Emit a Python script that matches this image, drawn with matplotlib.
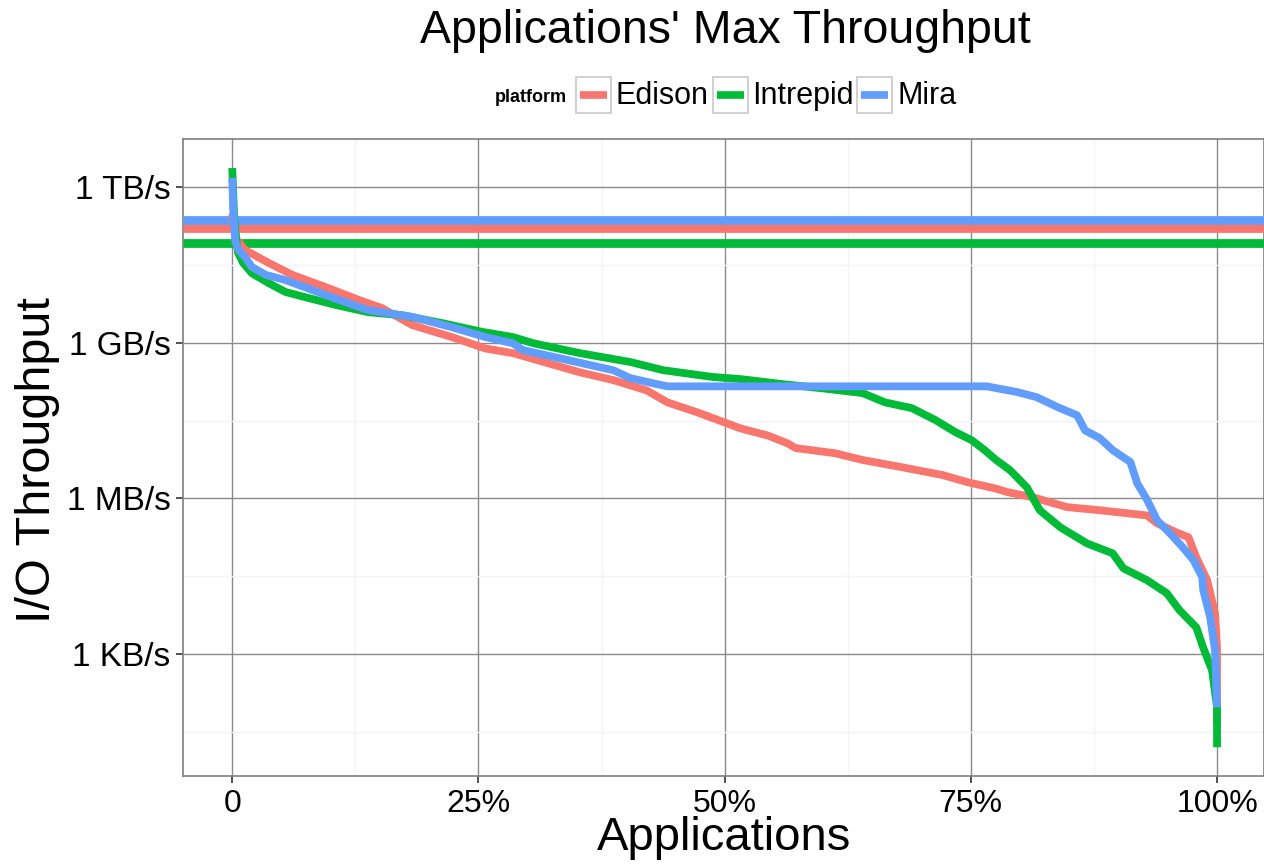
import numpy as np
import matplotlib
matplotlib.use("Agg")
import matplotlib.pyplot as plt
from matplotlib.patches import Rectangle
from matplotlib.lines import Line2D
from matplotlib.ticker import FixedLocator, FixedFormatter

plt.rcParams['font.family'] = ['Liberation Sans', 'DejaVu Sans']

# ---------------- data ----------------
platforms = ["Edison", "Intrepid", "Mira"]
colors = {"Edison": "#F8766D", "Intrepid": "#00BA38", "Mira": "#619CFF"}

# peak bandwidth of each platform, log10(B/s)
peak_log10 = {"Edison": 11.22, "Intrepid": 10.93, "Mira": 11.37}

# fraction of applications (sorted) vs log10(max throughput in B/s)
edison_frac = [0.0, 0.004, 0.013, 0.037, 0.061, 0.094, 0.128, 0.152, 0.183, 0.223,
               0.257, 0.285, 0.320, 0.353, 0.387, 0.421, 0.442, 0.472, 0.516, 0.544,
               0.564, 0.572, 0.612, 0.640, 0.680, 0.721, 0.747, 0.775, 0.787, 0.813,
               0.848, 0.881, 0.929, 0.939, 0.959, 0.971, 0.979, 0.990, 0.998, 1.0, 1.0]
edison_log10 = [11.5, 11.0, 10.79, 10.54, 10.31, 10.08, 9.83, 9.67, 9.34, 9.11,
                8.89, 8.80, 8.61, 8.43, 8.28, 8.08, 7.85, 7.66, 7.35, 7.21,
                7.06, 6.97, 6.87, 6.74, 6.60, 6.45, 6.31, 6.19, 6.12, 6.02,
                5.83, 5.77, 5.67, 5.52, 5.34, 5.25, 4.86, 4.42, 3.78, 3.12, 1.62]

intrepid_frac = [0.0, 0.002, 0.005, 0.006, 0.011, 0.020, 0.037, 0.054, 0.074, 0.105,
                 0.138, 0.173, 0.213, 0.254, 0.285, 0.306, 0.353, 0.404, 0.438, 0.488,
                 0.516, 0.560, 0.600, 0.640, 0.663, 0.690, 0.714, 0.734, 0.751, 0.764,
                 0.775, 0.790, 0.807, 0.820, 0.841, 0.868, 0.894, 0.905, 0.929, 0.949,
                 0.962, 0.979, 0.986, 0.995, 1.0, 1.0]
intrepid_log10 = [12.37, 11.4, 10.84, 10.73, 10.54, 10.34, 10.15, 9.98, 9.88, 9.73,
                  9.59, 9.53, 9.38, 9.21, 9.11, 8.99, 8.80, 8.63, 8.47, 8.34,
                  8.30, 8.20, 8.12, 8.03, 7.85, 7.74, 7.51, 7.28, 7.12, 6.93,
                  6.75, 6.54, 6.21, 5.77, 5.44, 5.13, 4.94, 4.65, 4.42, 4.17,
                  3.84, 3.51, 3.12, 2.68, 1.97, 1.20]

mira_frac = [0.0, 0.001, 0.003, 0.006, 0.013, 0.020, 0.034, 0.054, 0.081, 0.108,
             0.138, 0.183, 0.223, 0.257, 0.285, 0.295, 0.340, 0.387, 0.404, 0.427,
             0.442, 0.766, 0.797, 0.817, 0.838, 0.858, 0.866, 0.881, 0.894, 0.912,
             0.919, 0.929, 0.939, 0.952, 0.965, 0.976, 0.985, 0.986, 0.993, 0.998, 1.0]
mira_log10 = [12.18, 11.56, 10.97, 10.80, 10.65, 10.46, 10.31, 10.21, 10.02, 9.83,
              9.63, 9.50, 9.30, 9.11, 8.99, 8.86, 8.67, 8.47, 8.32, 8.22,
              8.16, 8.16, 8.05, 7.95, 7.76, 7.60, 7.31, 7.16, 6.93, 6.70,
              6.29, 5.97, 5.58, 5.33, 5.06, 4.81, 4.48, 4.23, 3.71, 3.07, 1.97]

curves = {
    "Edison": (edison_frac, edison_log10),
    "Intrepid": (intrepid_frac, intrepid_log10),
    "Mira": (mira_frac, mira_log10),
}

y_ticks = [1e3, 1e6, 1e9, 1e12]
y_labels = ["1 KB/s", "1 MB/s", "1 GB/s", "1 TB/s"]
x_ticks = [0, 0.25, 0.5, 0.75, 1.0]
x_labels = ["0", "25%", "50%", "75%", "100%"]

# ---------------- figure ----------------
W, H = 1264, 864
fig = plt.figure(figsize=(W / 100, H / 100), dpi=100)
ax = fig.add_axes([183 / W, 1 - 776 / H, (1264 - 183) / W, (776 - 139) / H])

# horizontal peak lines
for p in ["Intrepid", "Edison", "Mira"]:
    ax.axhline(10 ** peak_log10[p], color=colors[p], lw=6.3, solid_capstyle='butt', zorder=3)
# curves
for p in platforms:
    fx, ly = curves[p]
    ax.plot(fx, 10 ** np.array(ly), color=colors[p], lw=5.6,
            solid_capstyle='butt', solid_joinstyle='round', zorder=4)

ax.set_yscale('log')
ax.set_ylim(10 ** 0.645, 10 ** 12.93)
ax.set_xlim(-0.05, 1.0477)

ax.yaxis.set_major_locator(FixedLocator(y_ticks))
ax.yaxis.set_major_formatter(FixedFormatter(y_labels))
ax.yaxis.set_minor_locator(FixedLocator([10 ** 1.5, 10 ** 4.5, 10 ** 7.5, 10 ** 10.5]))
ax.yaxis.set_minor_formatter(FixedFormatter([]))
ax.xaxis.set_major_locator(FixedLocator(x_ticks))
ax.xaxis.set_major_formatter(FixedFormatter(x_labels))
ax.xaxis.set_minor_locator(FixedLocator([0.125, 0.375, 0.625, 0.875]))

ax.grid(True, which='major', color='#8a8a8a', lw=1.0, zorder=0)
ax.grid(True, which='minor', color='#f4f4f4', lw=1.0, zorder=0)
ax.set_axisbelow(True)
for s in ax.spines.values():
    s.set_color('#7f7f7f')
    s.set_linewidth(1.2)

ax.tick_params(axis='both', which='major', length=5, width=1.2, color='#333333', pad=4)
ax.tick_params(axis='both', which='minor', length=0)
ax.tick_params(axis='y', labelsize=24)
ax.tick_params(axis='x', labelsize=23)

fig.text(724 / W, 1 - 838 / H, "Applications", fontsize=34, ha='center', va='center')
fig.text(38 / W, 1 - 460 / H, "I/O Throughput", fontsize=35, ha='center', va='center',
         rotation=90)

fig.text(725 / W, 1 - 31 / H, "Applications' Max Throughput", fontsize=33.5,
         ha='center', va='center')

# ---------------- legend (top) ----------------
def fx_(px):
    return px / W

def fy_(py):
    return 1 - py / H

fig.text(fx_(531), fy_(97), "platform", fontsize=13, fontweight='bold',
         ha='center', va='center')
key_x = [576, 713, 857]
label_x = [616, 752, 897]
for p, kx, lx in zip(platforms, key_x, label_x):
    fig.add_artist(Rectangle((fx_(kx), fy_(113)), 35 / W, 36 / H,
                             transform=fig.transFigure, facecolor='white',
                             edgecolor='#c8c8c8', lw=1.2))
    fig.add_artist(Line2D([fx_(kx + 4), fx_(kx + 31)], [fy_(95), fy_(95)],
                          transform=fig.transFigure, color=colors[p], lw=5.5,
                          solid_capstyle='butt'))
    fig.text(fx_(lx), fy_(96), p, fontsize=22, ha='left', va='center')

fig.savefig("out.png", dpi=100)
